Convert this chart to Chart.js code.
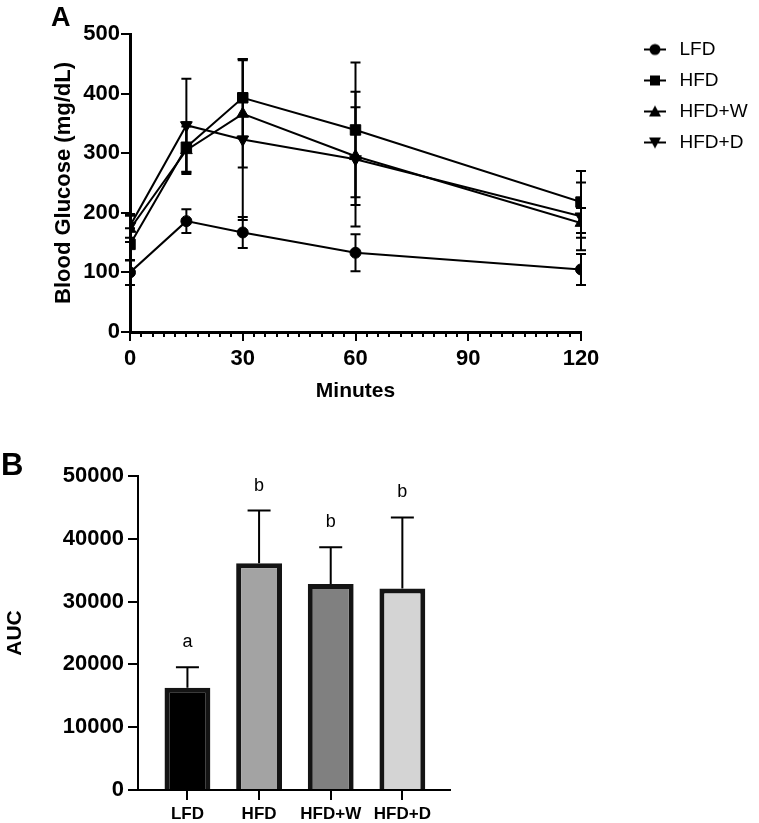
<!DOCTYPE html>
<html><head><meta charset="utf-8">
<script src="https://cdn.jsdelivr.net/npm/chart.js@4.4.0/dist/chart.umd.min.js"></script>
<style>
html,body{margin:0;padding:0;background:#fff;}
body{width:759px;height:823px;position:relative;overflow:hidden;font-family:"Liberation Sans",Arial,sans-serif;}
#wrapA{position:absolute;left:0;top:0;width:759px;height:410px;}
#wrapB{position:absolute;left:0;top:440px;width:759px;height:383px;}
.panel{position:absolute;font-weight:bold;color:#000;line-height:1;}
</style></head><body>
<div id="wrapA"><canvas id="cA"></canvas></div>
<div id="wrapB"><canvas id="cB"></canvas></div>
<div class="panel" style="left:51px;top:4px;font-size:27px">A</div>
<div class="panel" style="left:1px;top:449px;font-size:31px">B</div>
<script>
// ---------- data ----------
const minutes = [0, 15, 30, 60, 120];
const groups = ['LFD', 'HFD', 'HFD+W', 'HFD+D'];
const lfdMean  = [100, 186, 167, 133, 105];
const lfdSD    = [21, 20, 26, 31, 26];
const hfdMean  = [147, 310, 393, 339, 218];
const hfdSD    = [27, 42, 65, 113, 52];
const hfdwMean = [173, 305, 366, 295, 183];
const hfdwSD   = [22, 40, 90, 82, 25];
const hfddMean = [178, 347, 323, 290, 194];
const hfddSD   = [20, 78, 135, 113, 57];
const aucMean  = [16300, 36100, 32800, 32100];
const aucSD    = [3250, 8400, 5850, 11300];
const aucLetters = ['a', 'b', 'b', 'b'];
const barColors = ['#000000', '#a3a3a3', '#808080', '#d4d4d4'];

const FAM = '"Liberation Sans", Arial, sans-serif';

// ---------- legend icons (line + marker) ----------
function makeIcon(kind){
  const c = document.createElement('canvas');
  c.width = 30; c.height = 16;
  const g = c.getContext('2d');
  g.strokeStyle = '#000'; g.fillStyle = '#000'; g.lineWidth = 2;
  g.beginPath(); g.moveTo(2, 8); g.lineTo(24, 8); g.stroke();
  g.beginPath();
  const cx = 13;
  if (kind === 'circle') { g.arc(cx, 8, 5.5, 0, Math.PI*2); }
  else if (kind === 'rect') { g.rect(cx - 5, 3, 10, 10); }
  else if (kind === 'tri') { g.moveTo(cx, 2); g.lineTo(cx + 6, 13); g.lineTo(cx - 6, 13); g.closePath(); }
  else { g.moveTo(cx, 14); g.lineTo(cx + 6, 3); g.lineTo(cx - 6, 3); g.closePath(); }
  g.fill();
  return c;
}
const legendIcons = [makeIcon('circle'), makeIcon('rect'), makeIcon('tri'), makeIcon('inv')];

// ---------- error bar plugin ----------
const errorBars = {
  id: 'errorBars',
  afterDatasetsDraw(chart, args, opts) {
    const ctx = chart.ctx;
    const ys = chart.scales.y;
    ctx.save();
    ctx.strokeStyle = '#000';
    ctx.lineWidth = opts.lineWidth || 2;
    chart.data.datasets.forEach((ds, i) => {
      if (!ds.errors) return;
      const meta = chart.getDatasetMeta(i);
      meta.data.forEach((el, j) => {
        const raw = ds.data[j];
        const m = typeof raw === 'object' ? raw.y : raw;
        const e = ds.errors[j];
        const x = el.x;
        const yTop = ys.getPixelForValue(m + e);
        const yBot = opts.upOnly ? ys.getPixelForValue(m) : ys.getPixelForValue(m - e);
        const hw = opts.cap || 5;
        ctx.beginPath();
        ctx.moveTo(x, yBot); ctx.lineTo(x, yTop);
        ctx.moveTo(x - hw, yTop); ctx.lineTo(x + hw, yTop);
        if (!opts.upOnly) { ctx.moveTo(x - hw, yBot); ctx.lineTo(x + hw, yBot); }
        ctx.stroke();
        if (ds.letters) {
          ctx.fillStyle = '#000';
          ctx.font = '18px ' + FAM;
          ctx.textAlign = 'center';
          ctx.textBaseline = 'alphabetic';
          ctx.fillText(ds.letters[j], x, yTop - 20);
        }
      });
    });
    ctx.restore();
  }
};

// ---------- minor ticks plugin for minutes axis ----------
const minorTicks = {
  id: 'minorTicks',
  afterDraw(chart) {
    const xs = chart.scales.x;
    const ctx = chart.ctx;
    ctx.save();
    ctx.strokeStyle = '#000';
    ctx.lineWidth = 2;
    ctx.beginPath();
    for (let v = 3; v < 120; v += 3) {
      if (v % 30 === 0) continue;
      const px = Math.round(xs.getPixelForValue(v));
      ctx.moveTo(px, xs.top); ctx.lineTo(px, xs.top + 5);
    }
    ctx.stroke();
    ctx.restore();
  }
};

// ---------- category tick marks for the AUC x axis ----------
const catTicks = {
  id: 'catTicks',
  afterDraw(chart) {
    const xs = chart.scales.x;
    const ctx = chart.ctx;
    ctx.save();
    ctx.strokeStyle = '#000';
    ctx.lineWidth = 2;
    ctx.beginPath();
    xs.ticks.forEach((t, i) => {
      const px = Math.round(xs.getPixelForTick(i));
      ctx.moveTo(px, xs.top); ctx.lineTo(px, xs.top + 10);
    });
    ctx.stroke();
    ctx.restore();
  }
};

// ---------- Chart A ----------
const LEG_FONT = 19;
const mctx = document.createElement('canvas').getContext('2d');
mctx.font = LEG_FONT + 'px ' + FAM;
const maxText = Math.max(...groups.map(g => mctx.measureText(g).width));
const legendPad = 12, legendBox = 26;
const legendW = legendBox + LEG_FONT / 2 + maxText + legendPad + 10;
const legendLeft = 644 - legendPad;
const padRight = Math.max(0, 759 - legendLeft - legendW);
const gapW = legendLeft - 581;

function lineDS(label, mean, sd, style, radius, rot) {
  return {
    label, xAxisID: 'x', yAxisID: 'y',
    data: minutes.map((m, i) => ({x: m, y: mean[i]})),
    errors: sd,
    borderColor: '#000', borderWidth: 2, backgroundColor: '#000',
    pointStyle: style, pointRadius: radius, pointRotation: rot || 0,
    pointBackgroundColor: '#000', pointBorderColor: '#000', pointBorderWidth: 1,
    fill: false, tension: 0
  };
}

new Chart(document.getElementById('cA'), {
  type: 'line',
  data: {
    datasets: [
      lineDS('LFD', lfdMean, lfdSD, 'circle', 5.5),
      lineDS('HFD', hfdMean, hfdSD, 'rect', 7.4),
      lineDS('HFD+W', hfdwMean, hfdwSD, 'triangle', 6.8),
      lineDS('HFD+D', hfddMean, hfddSD, 'triangle', 6.8, 180)
    ]
  },
  options: {
    responsive: true, maintainAspectRatio: false, animation: false, events: [],
    layout: { padding: { top: 28, right: padRight, left: 0, bottom: 0 } },
    scales: {
      x: {
        type: 'linear', position: 'bottom', min: 0, max: 120,
        ticks: { stepSize: 30, color: '#000', font: { family: FAM, size: 22, weight: 'bold' }, padding: 5, maxRotation: 0, autoSkip: false },
        grid: { display: true, drawOnChartArea: false, tickLength: 9, color: '#000', lineWidth: 2 },
        border: { display: true, color: '#000', width: 3 },
        title: { display: true, text: 'Minutes', color: '#000', font: { family: FAM, size: 21, weight: 'bold' }, padding: { top: 0, bottom: 6 } },
        afterFit(s) { s.height = 78; }
      },
      y: {
        type: 'linear', position: 'left', min: 0, max: 500,
        ticks: { stepSize: 100, color: '#000', font: { family: FAM, size: 22, weight: 'bold' }, padding: 1 },
        grid: { display: true, drawOnChartArea: false, tickLength: 9, color: '#000', lineWidth: 2 },
        border: { display: true, color: '#000', width: 3 },
        title: { display: true, text: 'Blood Glucose (mg/dL)', color: '#000', font: { family: FAM, size: 22, weight: 'bold' }, padding: { top: 51, bottom: 0 } },
        afterFit(s) { s.width = 130; }
      },
      gapT: {
        type: 'linear', position: 'top', display: true,
        grid: { display: false }, border: { display: false }, ticks: { display: false },
        afterFit(s) { s.height = 6; }
      },
      gapR: {
        type: 'linear', position: 'right', display: true,
        grid: { display: false }, border: { display: false }, ticks: { display: false },
        afterFit(s) { s.width = gapW; }
      }
    },
    plugins: {
      legend: {
        position: 'right', align: 'start',
        labels: {
          usePointStyle: true, pointStyleWidth: legendBox, padding: legendPad,
          color: '#000', font: { family: FAM, size: LEG_FONT },
          generateLabels(chart) {
            return chart.data.datasets.map((ds, i) => ({
              text: ds.label, pointStyle: legendIcons[i], fillStyle: '#000',
              strokeStyle: '#000', lineWidth: 0, hidden: false, datasetIndex: i, fontColor: '#000'
            }));
          }
        }
      },
      tooltip: { enabled: false },
      errorBars: { cap: 5, lineWidth: 2 }
    }
  },
  plugins: [errorBars, minorTicks]
});

// ---------- Chart B ----------
new Chart(document.getElementById('cB'), {
  type: 'bar',
  data: {
    datasets: [{
      label: 'AUC', xAxisID: 'x', yAxisID: 'y',
      data: aucMean.map((v, i) => ({x: i, y: v})),
      errors: aucSD, letters: aucLetters,
      backgroundColor: barColors, borderColor: '#141414', borderWidth: 5,
      barPercentage: 0.64, categoryPercentage: 1
    }]
  },
  options: {
    responsive: true, maintainAspectRatio: false, animation: false, events: [],
    layout: { padding: { top: 36, right: 309, left: 0, bottom: 0 } },
    scales: {
      x: {
        type: 'linear', position: 'bottom', min: -0.69, max: 3.665, offset: false,
        afterBuildTicks(s) { s.ticks = s.ticks.filter(t => Number.isInteger(t.value)); },
        ticks: { stepSize: 1, includeBounds: false, callback: (v) => groups[v], color: '#000', font: { family: FAM, size: 17, weight: 'bold' }, padding: 4, autoSkip: false, maxRotation: 0 },
        grid: { display: true, offset: false, drawOnChartArea: false, tickLength: 10, color: '#000', lineWidth: 2 },
        border: { display: true, color: '#000', width: 2 },
        afterFit(s) { s.height = 33; }
      },
      y: {
        type: 'linear', position: 'left', min: 0, max: 50000,
        ticks: { stepSize: 10000, callback: (v) => String(v), color: '#000', font: { family: FAM, size: 22, weight: 'bold' }, padding: 4 },
        grid: { display: true, drawOnChartArea: false, tickLength: 10, color: '#000', lineWidth: 2 },
        border: { display: true, color: '#000', width: 2 },
        title: { display: true, text: 'AUC', color: '#000', font: { family: FAM, size: 21, weight: 'bold' }, padding: { top: 3, bottom: 0 } },
        afterFit(s) { s.width = 138; }
      }
    },
    plugins: {
      legend: { display: false },
      tooltip: { enabled: false },
      errorBars: { cap: 11.5, lineWidth: 2, upOnly: true }
    }
  },
  plugins: [errorBars, catTicks]
});
</script>
</body></html>
